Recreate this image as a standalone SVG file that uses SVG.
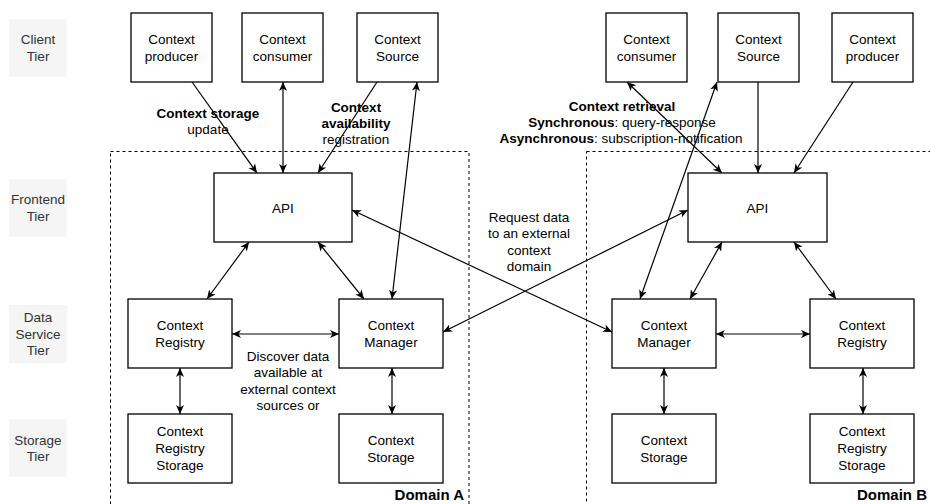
<svg xmlns="http://www.w3.org/2000/svg" width="930" height="504" viewBox="0 0 930 504">
<defs>
<marker id="ah" markerUnits="userSpaceOnUse" markerWidth="10" markerHeight="10" refX="9" refY="5" orient="auto-start-reverse" viewBox="0 0 10 10">
<path d="M0,1 L9,5 L0,9 L2.5,5 Z" fill="#000"/>
</marker>
</defs>
<style>
text{font-family:"Liberation Sans",Arial,Helvetica,sans-serif;font-size:13.5px;text-anchor:middle;dominant-baseline:central;fill:#000}
.tier rect{fill:#f5f5f5;stroke:none}
.tier text{fill:#333}
.node rect{fill:#fff;stroke:#000;stroke-width:1.3}
.dom{fill:none;stroke:#000;stroke-width:1;stroke-dasharray:3 3}
.b{font-weight:bold}
#connectors line{stroke:#000;stroke-width:1.2;fill:none}
.bi{marker-start:url(#ah);marker-end:url(#ah)}
.uni{marker-end:url(#ah)}
.dl{font-weight:bold;font-size:15px;text-anchor:end;dominant-baseline:auto}
</style>
<rect width="930" height="504" fill="#fff"/>
<g id="tiers">
<g id="tier-client" class="tier"><rect x="9" y="19" width="58" height="58"/><text x="38" y="39.5">Client</text><text x="38" y="56">Tier</text></g>
<g id="tier-frontend" class="tier"><rect x="9" y="179" width="58" height="58"/><text x="38" y="199.5">Frontend</text><text x="38" y="216">Tier</text></g>
<g id="tier-data" class="tier"><rect x="9" y="305" width="58" height="58"/><text x="38" y="317.5">Data</text><text x="38" y="334">Service</text><text x="38" y="350.5">Tier</text></g>
<g id="tier-storage" class="tier"><rect x="9" y="419" width="58" height="58"/><text x="38" y="440">Storage</text><text x="38" y="456.5">Tier</text></g>
</g>
<g id="domains">
<rect class="dom" x="110.5" y="151.5" width="358.5" height="370"/>
<rect class="dom" x="586.5" y="151.5" width="360" height="370"/>
<text class="dl" x="464" y="500">Domain A</text>
<text class="dl" x="927" y="500">Domain B</text>
</g>
<g id="connectors">
<line class="uni" x1="192" y1="82" x2="257" y2="173"/>
<line class="bi" x1="283" y1="82" x2="283" y2="173"/>
<line class="uni" x1="377" y1="82" x2="318" y2="173"/>
<line class="bi" x1="417" y1="82" x2="392" y2="299"/>
<line class="bi" x1="249" y1="242" x2="207" y2="299"/>
<line class="bi" x1="318" y1="242" x2="364" y2="299"/>
<line class="bi" x1="232" y1="334" x2="339" y2="334"/>
<line class="bi" x1="180" y1="368" x2="180" y2="414"/>
<line class="bi" x1="392" y1="368" x2="392" y2="414"/>
<line class="bi" x1="352" y1="210" x2="612" y2="332"/>
<line class="bi" x1="443" y1="332" x2="688" y2="210"/>
<line class="bi" x1="627" y1="82" x2="722" y2="173"/>
<line class="bi" x1="717" y1="82" x2="640" y2="299"/>
<line class="uni" x1="758" y1="82" x2="758" y2="173"/>
<line class="uni" x1="853" y1="82" x2="794" y2="173"/>
<line class="bi" x1="722" y1="242" x2="690" y2="299"/>
<line class="bi" x1="794" y1="242" x2="836" y2="299"/>
<line class="bi" x1="716" y1="334" x2="810" y2="334"/>
<line class="bi" x1="664" y1="368" x2="664" y2="414"/>
<line class="bi" x1="863" y1="368" x2="863" y2="414"/>
</g>
<g id="labels">
<text class="b" x="208" y="113">Context storage</text>
<text x="208" y="129">update</text>
<text class="b" x="356" y="107">Context</text>
<text class="b" x="356" y="123">availability</text>
<text x="356" y="139">registration</text>
<text class="b" x="622" y="106">Context retrieval</text>
<text x="622" y="122"><tspan class="b">Synchronous</tspan>: query-response</text>
<text x="621" y="138"><tspan class="b">Asynchronous</tspan>: subscription-notification</text>
<text x="529" y="217">Request data</text>
<text x="529" y="233">to an external</text>
<text x="529" y="250">context</text>
<text x="529" y="266">domain</text>
<text x="288" y="356">Discover data</text>
<text x="288" y="372">available at</text>
<text x="288" y="389">external context</text>
<text x="288" y="405">sources or</text>
</g>
<g id="a-producer" class="node"><rect x="131" y="13" width="81" height="69"/><text x="171.5" y="39.5">Context</text><text x="171.5" y="56">producer</text></g>
<g id="a-consumer" class="node"><rect x="242" y="13" width="81" height="69"/><text x="282.5" y="39.5">Context</text><text x="282.5" y="56">consumer</text></g>
<g id="a-source" class="node"><rect x="357" y="13" width="81" height="69"/><text x="397.5" y="39.5">Context</text><text x="397.5" y="56">Source</text></g>
<g id="a-api" class="node"><rect x="214" y="173" width="138" height="69"/><text x="283" y="208">API</text></g>
<g id="a-registry" class="node"><rect x="128" y="299" width="104" height="69"/><text x="180" y="325">Context</text><text x="180" y="342">Registry</text></g>
<g id="a-manager" class="node"><rect x="339" y="299" width="104" height="69"/><text x="391" y="325">Context</text><text x="391" y="342">Manager</text></g>
<g id="a-regstorage" class="node"><rect x="128" y="414" width="104" height="69"/><text x="180" y="431">Context</text><text x="180" y="448">Registry</text><text x="180" y="465">Storage</text></g>
<g id="a-storage" class="node"><rect x="339" y="414" width="104" height="69"/><text x="391" y="440">Context</text><text x="391" y="457">Storage</text></g>
<g id="b-consumer" class="node"><rect x="606" y="13" width="81" height="69"/><text x="646.5" y="39.5">Context</text><text x="646.5" y="56">consumer</text></g>
<g id="b-source" class="node"><rect x="718" y="13" width="81" height="69"/><text x="758.5" y="39.5">Context</text><text x="758.5" y="56">Source</text></g>
<g id="b-producer" class="node"><rect x="832" y="13" width="81" height="69"/><text x="872.5" y="39.5">Context</text><text x="872.5" y="56">producer</text></g>
<g id="b-api" class="node"><rect x="688" y="173" width="139" height="69"/><text x="757.5" y="208">API</text></g>
<g id="b-manager" class="node"><rect x="612" y="299" width="104" height="69"/><text x="664" y="325">Context</text><text x="664" y="342">Manager</text></g>
<g id="b-registry" class="node"><rect x="810" y="299" width="104" height="69"/><text x="862" y="325">Context</text><text x="862" y="342">Registry</text></g>
<g id="b-storage" class="node"><rect x="612" y="414" width="104" height="69"/><text x="664" y="440">Context</text><text x="664" y="457">Storage</text></g>
<g id="b-regstorage" class="node"><rect x="810" y="414" width="104" height="69"/><text x="862" y="431">Context</text><text x="862" y="448">Registry</text><text x="862" y="465">Storage</text></g>
</svg>
